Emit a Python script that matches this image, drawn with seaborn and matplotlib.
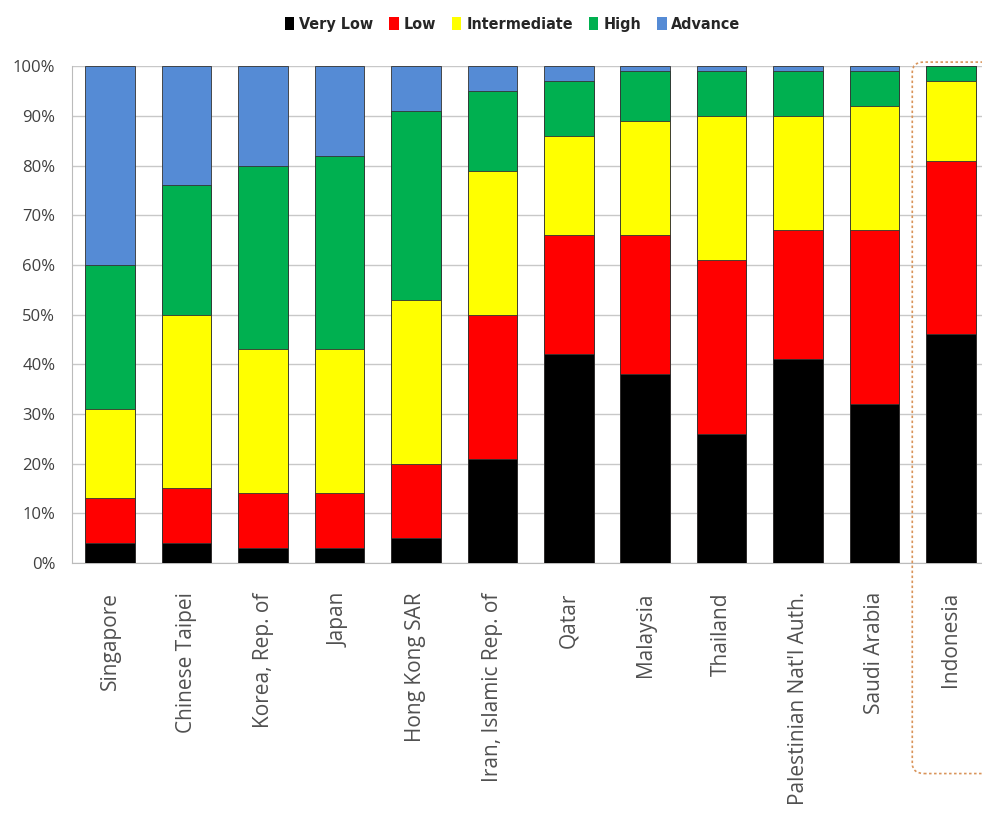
import numpy as np
import pandas as pd
import matplotlib
matplotlib.use('Agg')
import matplotlib.pyplot as plt
import seaborn as sns
from matplotlib.patches import Patch, FancyBboxPatch

countries = ['Singapore', 'Chinese Taipei', 'Korea, Rep. of', 'Japan', 'Hong Kong SAR',
             'Iran, Islamic Rep. of', 'Qatar', 'Malaysia', 'Thailand',
             "Palestinian Nat'l Auth.", 'Saudi Arabia', 'Indonesia']
levels = ['Very Low', 'Low', 'Intermediate', 'High', 'Advance']

very_low = [4, 4, 3, 3, 5, 21, 42, 38, 26, 41, 32, 46]
low = [9, 11, 11, 11, 15, 29, 24, 28, 35, 26, 35, 35]
intermediate = [18, 35, 29, 29, 33, 29, 20, 23, 29, 23, 25, 16]
high = [29, 26, 37, 39, 38, 16, 11, 10, 9, 9, 7, 3]
advance = [40, 24, 20, 18, 9, 5, 3, 1, 1, 1, 1, 0]

colors = ['#000000', '#FF0000', '#FFFF00', '#00B050', '#558BD5']
yticks = [0, 10, 20, 30, 40, 50, 60, 70, 80, 90, 100]

df = pd.DataFrame({'country': countries, 'Very Low': very_low, 'Low': low,
                   'Intermediate': intermediate, 'High': high, 'Advance': advance})
cum = df[levels].cumsum(axis=1)
cum['country'] = df['country']

sns.set_style('white')
plt.rcParams['font.family'] = ['Open Sans', 'DejaVu Sans']

fig = plt.figure(figsize=(9.82, 8.39), dpi=100)
ax = fig.add_axes([0.0733, 0.329, 0.927, 0.592])

# draw from the top layer down so lower layers cover upper ones
for lev, col in zip(levels[::-1], colors[::-1]):
    sns.barplot(data=cum, x='country', y=lev, color=col, width=0.65,
                edgecolor='#333333', linewidth=0.6, saturation=1, ax=ax, zorder=3)

ax.set_xlim(-0.5, 11.41)
ax.set_ylim(0, 100)
ax.set_yticks(yticks)
ax.set_yticklabels([f'{t}%' for t in yticks], fontsize=12, color='#404040')
ax.set_xticks(range(len(countries)))
ax.set_xticklabels(countries, rotation=90, fontsize=15, color='#505050')
ax.tick_params(axis='x', length=0, pad=21)
ax.tick_params(axis='y', length=0, pad=12)
ax.set_xlabel('')
ax.set_ylabel('')
ax.yaxis.grid(True, color='#C8C8C8', linewidth=1)
ax.set_axisbelow(True)
for s in ['top', 'right']:
    ax.spines[s].set_visible(False)
ax.spines['left'].set_color('#BBBBBB')
ax.spines['bottom'].set_color('#BBBBBB')

handles = [Patch(facecolor=c, edgecolor='none', label=l) for l, c in zip(levels, colors)]
fig.legend(handles=handles, loc='upper center', bbox_to_anchor=(0.522, 0.997), ncol=5,
           frameon=False, handlelength=0.6, handleheight=0.9, handletextpad=0.3,
           columnspacing=1.0, prop={'family': 'DejaVu Sans', 'stretch': 'condensed',
                                     'size': 11.5, 'weight': 'bold'})

box = FancyBboxPatch((0.929, 0.078), 0.09, 0.848, transform=fig.transFigure,
                     boxstyle='round,pad=0,rounding_size=0.012', fill=False,
                     edgecolor='#D9945A', linestyle=(0, (1.5, 1.5)), linewidth=1.2)
fig.patches.append(box)

fig.savefig('out.png', dpi=100)
